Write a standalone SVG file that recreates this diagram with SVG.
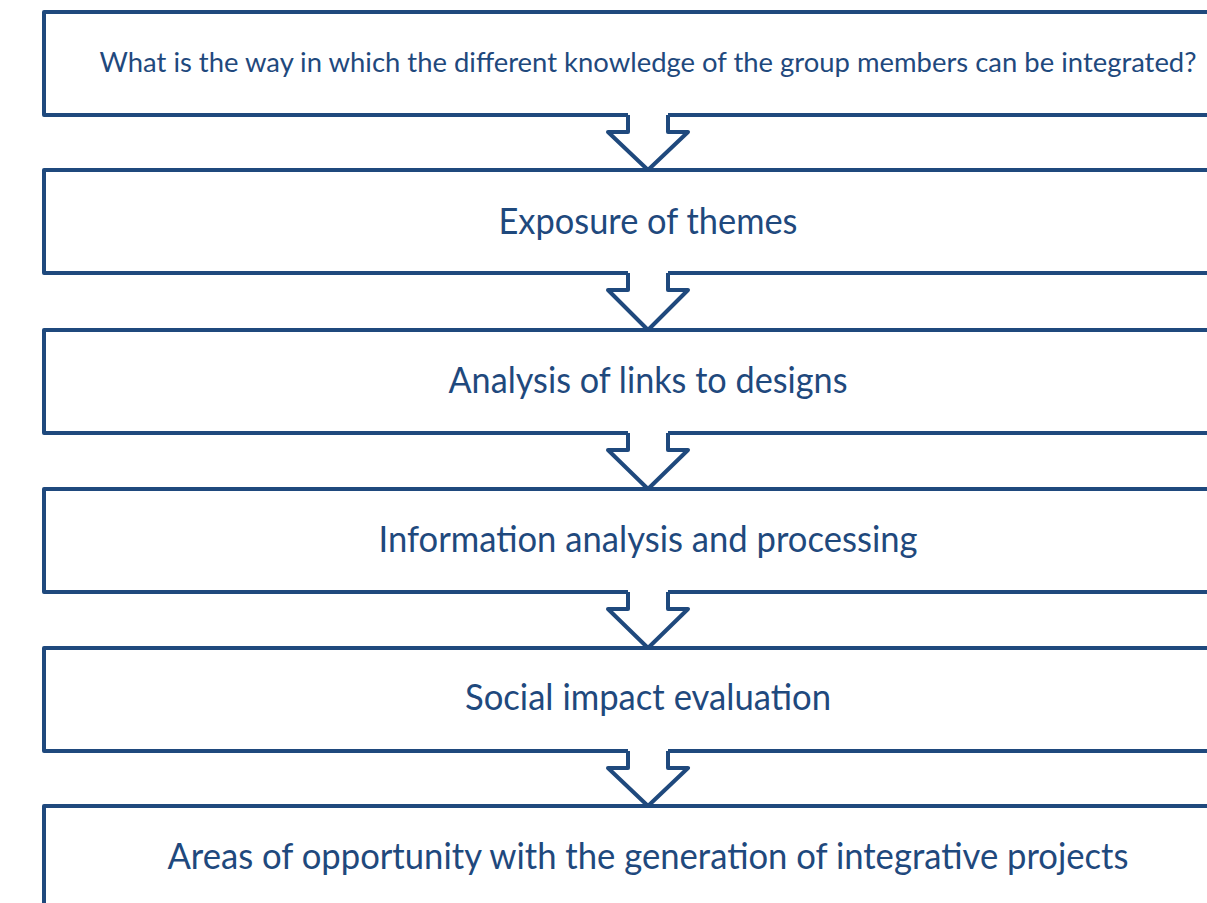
<svg xmlns="http://www.w3.org/2000/svg" width="1207" height="903" viewBox="0 0 1207 903">
<style>
.box{fill:#fff;stroke:#1F497D;stroke-width:4;stroke-linejoin:round}
.arr{fill:none;stroke:#1F497D;stroke-width:4;stroke-linejoin:round;stroke-linecap:butt}
.cov{fill:#fff;stroke:none}
.t{font-family:Lato,"Open Sans","Liberation Sans",sans-serif;fill:#1F497D;text-anchor:middle}
.s{font-size:27px}
.l{font-size:36px}
</style>
<rect width="1207" height="903" fill="#fff"/>
<g id="n1"><rect class="box" x="44" y="12" width="1210" height="103"/><text class="t s" x="648" y="72" textLength="1097" lengthAdjust="spacingAndGlyphs">What is the way in which the different knowledge of the group members can be integrated?</text></g>
<g id="n2"><rect class="box" x="44" y="170" width="1210" height="103"/><text class="t l" x="648" y="234" textLength="299" lengthAdjust="spacingAndGlyphs">Exposure of themes</text></g>
<g id="n3"><rect class="box" x="44" y="330" width="1210" height="103"/><text class="t l" x="648" y="393" textLength="399" lengthAdjust="spacingAndGlyphs">Analysis of links to designs</text></g>
<g id="n4"><rect class="box" x="44" y="489" width="1210" height="103"/><text class="t l" x="648" y="552" textLength="539" lengthAdjust="spacingAndGlyphs">Information analysis and processing</text></g>
<g id="n5"><rect class="box" x="44" y="648" width="1210" height="103"/><text class="t l" x="648" y="710" textLength="366" lengthAdjust="spacingAndGlyphs">Social impact evaluation</text></g>
<g id="n6"><rect class="box" x="44" y="806" width="1210" height="140"/><text class="t l" x="648" y="869" textLength="961" lengthAdjust="spacingAndGlyphs">Areas of opportunity with the generation of integrative projects</text></g>
<g id="connectors">
<g><polygon class="cov" points="628,110 628,132 608,132 648,170 688,132 668,132 668,110"/><path class="arr" d="M628,115 V132 H608 L648,170 L688,132 H668 V115"/></g>
<g><polygon class="cov" points="628,268 628,290 608,290 648,330 688,290 668,290 668,268"/><path class="arr" d="M628,273 V290 H608 L648,330 L688,290 H668 V273"/></g>
<g><polygon class="cov" points="628,428 628,450 608,450 648,489 688,450 668,450 668,428"/><path class="arr" d="M628,433 V450 H608 L648,489 L688,450 H668 V433"/></g>
<g><polygon class="cov" points="628,587 628,609 608,609 648,648 688,609 668,609 668,587"/><path class="arr" d="M628,592 V609 H608 L648,648 L688,609 H668 V592"/></g>
<g><polygon class="cov" points="628,746 628,768 608,768 648,806 688,768 668,768 668,746"/><path class="arr" d="M628,751 V768 H608 L648,806 L688,768 H668 V751"/></g>
</g>
</svg>
